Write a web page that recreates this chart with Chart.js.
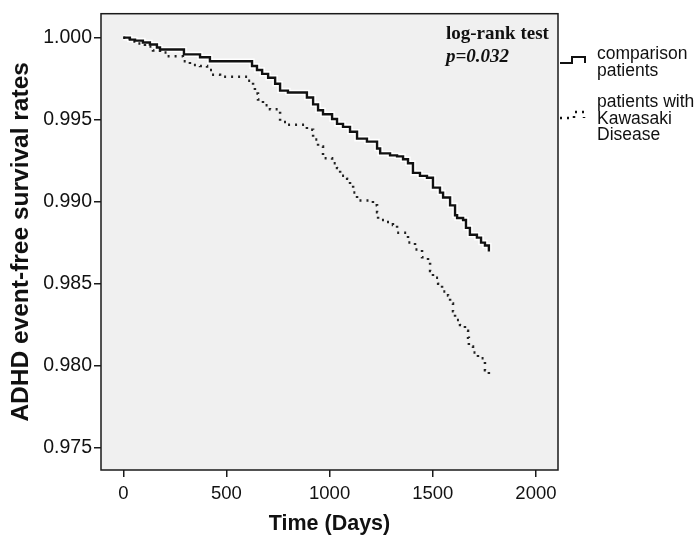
<!DOCTYPE html>
<html>
<head>
<meta charset="utf-8">
<script src="https://cdn.jsdelivr.net/npm/chart.js@4.4.1/dist/chart.umd.min.js"></script>
<style>
  html, body { margin: 0; padding: 0; background: #fff; }
  #wrap { width: 700px; height: 542px; position: relative; }
</style>
</head>
<body>
<div id="wrap"><canvas id="km" width="700" height="542"></canvas></div>
<script>
// Kaplan-Meier step points (day of drop, survival after drop)
const compDays = [0, 32, 57, 95, 129, 163, 178, 294, 372, 420, 624, 648, 673, 702, 736, 760, 798, 890, 920, 944,
    968, 1012, 1036, 1065, 1099, 1133, 1181, 1230, 1245, 1293, 1327, 1356, 1380, 1404, 1438, 1472, 1501, 1535, 1550, 1584,
    1608, 1618, 1647, 1661, 1680, 1714, 1734, 1753, 1772];
const compSurv = [1.0, 0.99988, 0.99982, 0.9997, 0.99958, 0.9994, 0.99928, 0.99898, 0.9988, 0.99856, 0.99827, 0.99803, 0.99779, 0.99755, 0.99719, 0.99677, 0.99665, 0.99635, 0.99593, 0.99557,
    0.99533, 0.99504, 0.99474, 0.99456, 0.99426, 0.99384, 0.99366, 0.99324, 0.99294, 0.99282, 0.99276, 0.99258, 0.99234, 0.99175, 0.99157, 0.99145, 0.99085, 0.99055, 0.99025, 0.98977,
    0.98917, 0.989, 0.98888, 0.9884, 0.98798, 0.9878, 0.9875, 0.98732, 0.98696];

const kdDays = [0, 32, 71, 105, 144, 178, 212, 289, 323, 372, 406, 430, 469, 604, 629, 638, 653, 677, 711, 760,
    793, 890, 920, 944, 968, 1012, 1036, 1051, 1085, 1099, 1114, 1133, 1210, 1230, 1235, 1278, 1307, 1327, 1375, 1380,
    1414, 1448, 1477, 1487, 1501, 1526, 1545, 1574, 1584, 1598, 1608, 1632, 1656, 1671, 1675, 1695, 1719, 1748, 1753, 1772];
const kdSurv = [1.0, 0.99976, 0.99964, 0.99946, 0.99922, 0.9991, 0.99886, 0.99856, 0.99833, 0.99827, 0.99803, 0.99773, 0.99761, 0.99737, 0.99707, 0.99659, 0.99623, 0.99587, 0.99563, 0.99486,
    0.99468, 0.99438, 0.99378, 0.99336, 0.99264, 0.99234, 0.99205, 0.99157, 0.99139, 0.99097, 0.99055, 0.99007, 0.98977, 0.98935, 0.98888, 0.98876, 0.98858, 0.9881, 0.98798, 0.9875,
    0.98708, 0.9866, 0.9863, 0.98577, 0.98535, 0.98499, 0.98451, 0.98427, 0.98379, 0.98331, 0.98278, 0.98248, 0.98212, 0.9817, 0.98116, 0.9808, 0.98044, 0.98026, 0.97972, 0.97931];

const xTicks = [0, 500, 1000, 1500, 2000];
const yTicks = [0.975, 0.980, 0.985, 0.990, 0.995, 1.000];
const legendLabels = [['comparison', 'patients'], ['patients with', 'Kawasaki', 'Disease']];
const testLabel = 'log-rank test';
const pLabel = 'p=0.032';

const sans = "'Liberation Sans', Arial, sans-serif";
const serif = "'Liberation Serif', 'Times New Roman', serif";

function toPoints(days, surv) {
    return days.map((d, i) => ({ x: d, y: surv[i] }));
}

// grey plot box with a dark frame
const plotBox = {
    id: 'plotBox',
    beforeDraw(chart) {
        const { ctx, chartArea: a } = chart;
        ctx.save();
        ctx.fillStyle = '#f0f0f0';
        ctx.fillRect(a.left, a.top, a.right - a.left, a.bottom - a.top);
        ctx.restore();
    },
    afterDraw(chart) {
        const { ctx, chartArea: a } = chart;
        ctx.save();
        ctx.strokeStyle = '#1a1a1a';
        ctx.lineWidth = 1.5;
        ctx.strokeRect(a.left, a.top, a.right - a.left, a.bottom - a.top);
        ctx.restore();
    }
};

// test annotation and the right-hand legend
const sideText = {
    id: 'sideText',
    afterDraw(chart) {
        const { ctx, chartArea: a } = chart;
        ctx.save();
        ctx.fillStyle = '#111';
        ctx.textAlign = 'left';
        ctx.textBaseline = 'alphabetic';
        ctx.font = "bold 19px " + serif;
        ctx.fillText(testLabel, 446, 39);
        ctx.font = "italic bold 19px " + serif;
        ctx.fillText(pLabel, 446, 61.5);

        const lx = a.right + 2;
        // solid step symbol
        ctx.strokeStyle = '#111';
        ctx.lineWidth = 2;
        ctx.beginPath();
        ctx.moveTo(lx, 63); ctx.lineTo(lx + 12, 63); ctx.lineTo(lx + 12, 57);
        ctx.lineTo(lx + 25, 57); ctx.lineTo(lx + 25, 63);
        ctx.stroke();
        // dotted step symbol
        ctx.setLineDash([2, 5]);
        ctx.lineWidth = 2.5;
        ctx.beginPath();
        ctx.moveTo(lx, 118); ctx.lineTo(lx + 14, 118); ctx.lineTo(lx + 14, 112);
        ctx.lineTo(lx + 24, 112); ctx.lineTo(lx + 24, 118);
        ctx.stroke();
        ctx.setLineDash([]);

        ctx.font = "17.5px " + sans;
        const tx = 597;
        legendLabels[0].forEach((t, i) => ctx.fillText(t, tx, 59 + i * 16.5));
        legendLabels[1].forEach((t, i) => ctx.fillText(t, tx, 107 + i * 16.5));
        ctx.restore();
    }
};

new Chart(document.getElementById('km'), {
    type: 'line',
    data: {
        datasets: [
            {
                label: 'comparison patients',
                data: toPoints(compDays, compSurv),
                stepped: true,
                borderColor: '#111',
                borderWidth: 2.4,
                pointRadius: 0,
                fill: false
            },
            {
                label: 'patients with Kawasaki Disease',
                data: toPoints(kdDays, kdSurv),
                stepped: true,
                borderColor: '#222',
                borderWidth: 2.5,
                borderDash: [2, 5],
                pointRadius: 0,
                fill: false
            },
            {
                label: 'halo',
                data: toPoints(compDays, compSurv),
                stepped: true,
                borderColor: 'rgba(255,255,255,0.95)',
                borderWidth: 5.5,
                pointRadius: 0,
                fill: false
            }
        ]
    },
    options: {
        responsive: false,
        animation: false,
        layout: { padding: { left: 0, right: 142, top: 4, bottom: 0 } },
        plugins: {
            legend: { display: false },
            tooltip: { enabled: false }
        },
        scales: {
            x: {
                type: 'linear',
                min: -108,
                max: 2107,
                afterBuildTicks: axis => { axis.ticks = xTicks.map(v => ({ value: v })); },
                afterFit: axis => { axis.height = 72; },
                ticks: { font: { family: sans, size: 18.5 }, color: '#111', padding: 6, maxRotation: 0,
                    callback: v => String(v) },
                grid: { drawOnChartArea: false, drawTicks: true, tickLength: 7, color: '#1a1a1a', lineWidth: 1.5 },
                border: { display: false },
                title: { display: true, text: 'Time (Days)', color: '#111',
                    font: { family: sans, size: 21.5, weight: 'bold' }, padding: { top: 0, bottom: 5 } }
            },
            y: {
                type: 'linear',
                min: 0.97363,
                max: 1.00146,
                afterBuildTicks: axis => { axis.ticks = yTicks.map(v => ({ value: v })); },
                afterFit: axis => { axis.width = 101; },
                ticks: { font: { family: sans, size: 19.5 }, color: '#111', padding: 2,
                    callback: v => v.toFixed(3) },
                grid: { drawOnChartArea: false, drawTicks: true, tickLength: 7, color: '#1a1a1a', lineWidth: 1.5 },
                border: { display: false },
                title: { display: true, text: 'ADHD event-free survival rates', color: '#111',
                    font: { family: sans, size: 24.5, weight: 'bold' }, padding: { top: 7, bottom: 0 } }
            }
        }
    },
    plugins: [plotBox, sideText]
});
</script>
</body>
</html>
